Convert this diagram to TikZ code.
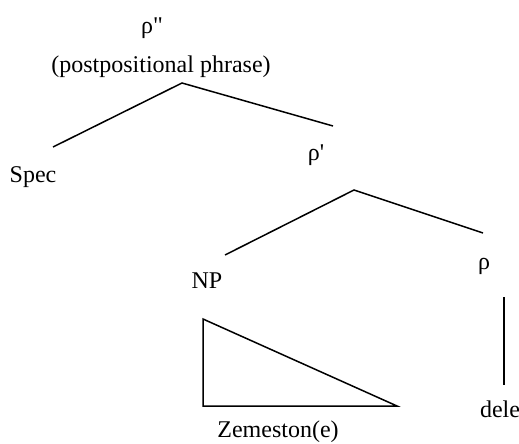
\documentclass[tikz,border=0pt]{standalone}
\usepackage{fontspec}
\setmainfont{Liberation Serif}
\usepackage{tikz}
\usetikzlibrary{positioning}

\begin{document}
\begin{tikzpicture}[x=0.5pt, y=-0.5pt, every node/.style={font=\fontsize{12}{14}\selectfont, anchor=base, inner sep=0pt}, branch/.style={line width=0.75pt}]
    \useasboundingbox (0,0) rectangle (519,444);
    \node (pp) at (152,34) {ρ\textquotedbl};
    \node (ppgloss) at (161,73) {(postpositional phrase)};
    \node (spec) at (33,182) {Spec};
    \node (pbar) at (316,161) {ρ\textquotesingle};
    \node (np) at (207,288) {NP};
    \node (phead) at (484,269) {ρ};
    \node (dele) at (500,417) {dele};
    \node (zem) at (278,437) {Zemeston(e)};
    % branch points and free ends
    \coordinate (pp-top) at (182,83);
    \coordinate (spec-end) at (53,147);
    \coordinate (pbar-end) at (333,126);
    \coordinate (pbar-top) at (354,190);
    \coordinate (np-end) at (225,255);
    \coordinate (phead-end) at (483,233);
    \coordinate (phead-bot) at (504,297);
    \coordinate (dele-end) at (504,385);
    \coordinate (tri-a) at (203,319);
    \coordinate (tri-b) at (203,406);
    \coordinate (tri-c) at (397,406);
    \draw[branch] (spec-end) -- (pp-top) -- (pbar-end);
    \draw[branch] (np-end) -- (pbar-top) -- (phead-end);
    \draw[branch] (phead-bot) -- (dele-end);
    \draw[branch] (tri-a) -- (tri-b) -- (tri-c) -- cycle;
\end{tikzpicture}
\end{document}
